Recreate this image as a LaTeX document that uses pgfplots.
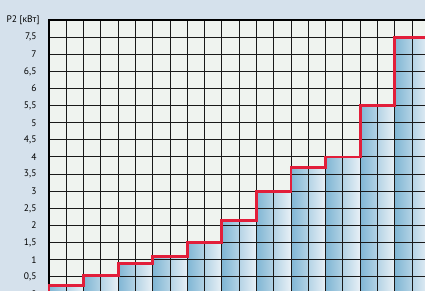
\documentclass[border=0pt]{standalone}
\usepackage{fontspec}
\setmainfont{PT Sans}
\usepackage{pgfplots}
\pgfplotsset{compat=1.18}
\definecolor{bgc}{RGB}{213,225,236}
\definecolor{plotbg}{RGB}{239,243,239}
\definecolor{barl}{RGB}{128,182,212}
\definecolor{barr}{RGB}{232,240,246}
\definecolor{stepred}{RGB}{226,30,58}
\begin{document}
\begin{tikzpicture}
\fill[bgc] (-49pt,3pt) rectangle (376pt,294pt);
\begin{axis}[
  at={(0,0)}, anchor=south west,
  scale only axis, width=380.3pt, height=274pt,
  xmin=0, xmax=22, ymin=0, ymax=8,
  set layers, axis on top,
  axis line style={black, line width=1.4pt},
  xtick={1,3,...,21}, xticklabels={}, major x tick style={draw=none},
  extra x ticks={0,2,...,22}, extra x tick labels={},
  extra x tick style={grid style={color=black!55, line width=1.8pt}, major tick length=0pt},
  ytick={0,0.5,...,7.5},
  yticklabels={0,{0,5},1,{1,5},2,{2,5},3,{3,5},4,{4,5},5,{5,5},6,{6,5},7,{7,5}},
  major y tick style={draw=none},
  extra y ticks={0,1,...,8}, extra y tick labels={},
  extra y tick style={major tick length=5pt, tick align=outside, major tick style={draw=black, line width=1pt}},
  grid=major,
  major grid style={black!90, line width=1pt},
  yticklabel style={font=\fontsize{9.5}{10}\selectfont, anchor=east, xshift=-9pt},
  ylabel={P2 [кВт]},
  ylabel style={rotate=-90, at={(axis description cs:0,1)}, anchor=east, xshift=-6pt, font=\fontsize{9.5}{10}\selectfont},
  barstyle/.style={ybar interval, draw=none, left color=barl, right color=barr},
]
\fill[plotbg] (rel axis cs:0,0) rectangle (rel axis cs:1,1);
\addplot[barstyle] coordinates {(0,0.25)(2,0.25)};
\addplot[barstyle] coordinates {(2,0.55)(4,0.55)};
\addplot[barstyle] coordinates {(4,0.9)(6,0.9)};
\addplot[barstyle] coordinates {(6,1.1)(8,1.1)};
\addplot[barstyle] coordinates {(8,1.5)(10,1.5)};
\addplot[barstyle] coordinates {(10,2.15)(12,2.15)};
\addplot[barstyle] coordinates {(12,3)(14,3)};
\addplot[barstyle] coordinates {(14,3.7)(16,3.7)};
\addplot[barstyle] coordinates {(16,4)(18,4)};
\addplot[barstyle] coordinates {(18,5.5)(20,5.5)};
\addplot[barstyle] coordinates {(20,7.5)(22,7.5)};
\addplot[const plot, draw=stepred, line width=2.8pt, on layer=axis foreground]
  coordinates {(0,0)(0,0.25)(2,0.55)(4,0.9)(6,1.1)(8,1.5)(10,2.15)(12,3)(14,3.7)(16,4)(18,5.5)(20,7.5)(22,7.5)};
\end{axis}
\pgfresetboundingbox
\path[use as bounding box] (-49pt,3pt) rectangle (376pt,294pt);
\end{tikzpicture}
\end{document}
